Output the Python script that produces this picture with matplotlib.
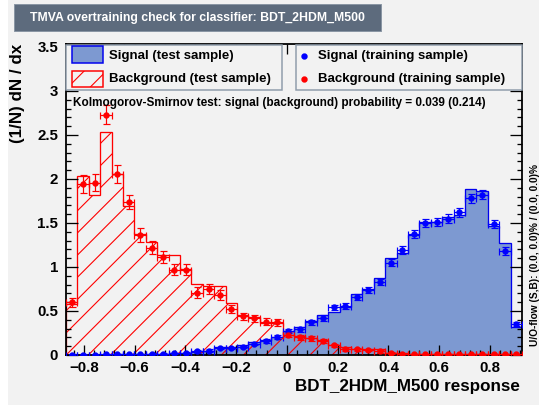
import matplotlib
matplotlib.use("Agg")
import matplotlib.pyplot as plt
from matplotlib.patches import Rectangle
from matplotlib.lines import Line2D
from matplotlib.ticker import MultipleLocator, FuncFormatter
import numpy as np

plt.rcParams['font.family'] = ['Liberation Sans', 'DejaVu Sans']
plt.rcParams['font.weight'] = 'bold'
plt.rcParams['hatch.linewidth'] = 0.6

DPI = 133
W, H = 539, 405


# pixel sizes -> points
def pt(px):
    return px * 72.0 / DPI


# ---------------- data ----------------
x_min, x_max = -0.870, 0.926
n_bins = 40

sig_test = [0.005, 0.005, 0.005, 0.005, 0.008, 0.01, 0.01, 0.012, 0.015, 0.02,
            0.025, 0.035, 0.04, 0.09, 0.09, 0.11, 0.15, 0.17, 0.21, 0.27,
            0.32, 0.39, 0.45, 0.49, 0.55, 0.69, 0.75, 0.87, 1.10, 1.16,
            1.36, 1.51, 1.51, 1.57, 1.59, 1.89, 1.86, 1.47, 1.27, 0.32]
sig_train = [0.005, 0.005, 0.005, 0.007, 0.008, 0.01, 0.01, 0.012, 0.012, 0.018,
             0.02, 0.04, 0.05, 0.08, 0.08, 0.09, 0.13, 0.16, 0.20, 0.27,
             0.29, 0.37, 0.42, 0.54, 0.56, 0.66, 0.74, 0.83, 1.05, 1.19,
             1.38, 1.50, 1.51, 1.55, 1.62, 1.78, 1.82, 1.49, 1.18, 0.35]
sig_err = [0.004, 0.004, 0.004, 0.005, 0.005, 0.006, 0.006, 0.006, 0.007, 0.008,
           0.009, 0.012, 0.013, 0.015, 0.015, 0.016, 0.018, 0.02, 0.022, 0.025,
           0.026, 0.028, 0.03, 0.032, 0.033, 0.035, 0.037, 0.039, 0.042, 0.044,
           0.046, 0.048, 0.048, 0.049, 0.05, 0.05, 0.05, 0.048, 0.045, 0.025]

bkg_test = [0.58, 2.03, 1.82, 2.53, 2.06, 1.69, 1.38, 1.28, 1.14, 1.14,
            0.98, 0.81, 0.78, 0.78, 0.59, 0.45, 0.43, 0.36, 0.36, 0.23,
            0.22, 0.19, 0.17, 0.11, 0.09, 0.065, 0.065, 0.065, 0.025, 0.02,
            0.012, 0.01, 0.01, 0.01, 0.01, 0.008, 0.008, 0.008, 0.008, 0.008]
bkg_train = [0.60, 1.94, 1.96, 2.73, 2.06, 1.74, 1.36, 1.22, 1.11, 0.97,
             0.97, 0.71, 0.75, 0.68, 0.52, 0.44, 0.42, 0.38, 0.37, 0.23,
             0.20, 0.19, 0.16, 0.11, 0.065, 0.065, 0.057, 0.04, 0.025, 0.015,
             0.01, 0.008, 0.008, 0.008, 0.008, 0.006, 0.006, 0.006, 0.006, 0.006]
bkg_err = [0.05, 0.1, 0.1, 0.11, 0.1, 0.08, 0.08, 0.07, 0.07, 0.065,
           0.065, 0.06, 0.06, 0.055, 0.045, 0.04, 0.04, 0.04, 0.04, 0.03,
           0.03, 0.03, 0.025, 0.02, 0.016, 0.016, 0.015, 0.012, 0.01, 0.008,
           0.006, 0.006, 0.006, 0.006, 0.006, 0.005, 0.005, 0.005, 0.005, 0.005]

title = "TMVA overtraining check for classifier: BDT_2HDM_M500"
ks_text = "Kolmogorov-Smirnov test: signal (background) probability = 0.039 (0.214)"
uo_text = "U/O-flow (S,B): (0.0, 0.0)% / (0.0, 0.0)%"

edges = np.linspace(x_min, x_max, n_bins + 1)
centers = 0.5 * (edges[:-1] + edges[1:])
half = 0.5 * (edges[1] - edges[0])

BG = '#f2f2f2'
SIG_FILL = '#7d99d1'

fig = plt.figure(figsize=(W / DPI, H / DPI), dpi=DPI, facecolor=BG)
ax = fig.add_axes([66 / W, (H - 355) / H, 456 / W, 311 / H])
ax.set_facecolor(BG)
ax.set_axisbelow(False)

# histograms
ax.stairs(sig_test, edges, fill=True, facecolor=SIG_FILL, edgecolor='none')
ax.stairs(sig_test, edges, color='#0000ee', lw=pt(1.3))
ax.stairs(bkg_test, edges, fill=True, facecolor='none', edgecolor='red',
          hatch='//', lw=0)
ax.stairs(bkg_test, edges, color='red', lw=pt(1.3))

# training points
ax.errorbar(centers, sig_train, xerr=half, yerr=sig_err, fmt='o', color='blue',
            ms=pt(4.5), elinewidth=pt(1.2), capsize=pt(3.5), capthick=pt(1.2), zorder=4)
ax.errorbar(centers, bkg_train, xerr=half, yerr=bkg_err, fmt='o', color='red',
            ms=pt(4.5), elinewidth=pt(1.2), capsize=pt(3.5), capthick=pt(1.2), zorder=4)

ax.set_xlim(x_min, x_max)
ax.set_ylim(0, 3.534)

ax.xaxis.set_major_locator(MultipleLocator(0.2))
ax.xaxis.set_minor_locator(MultipleLocator(0.04))
ax.yaxis.set_major_locator(MultipleLocator(0.5))
ax.yaxis.set_minor_locator(MultipleLocator(0.1))


def fmt(v, pos):
    v = round(v, 6)
    if v == 0:
        return "0"
    return ("%g" % v).replace("-", "\u2212")


ax.xaxis.set_major_formatter(FuncFormatter(fmt))
ax.yaxis.set_major_formatter(FuncFormatter(fmt))
ax.tick_params(which='both', direction='in', top=True, right=True, width=pt(1.3))
ax.tick_params(axis='x', which='major', length=pt(10), pad=pt(6), labelsize=pt(15))
ax.tick_params(axis='y', which='major', length=pt(12), pad=pt(8), labelsize=pt(15))
ax.tick_params(which='minor', length=pt(5))
for sp in ax.spines.values():
    sp.set_linewidth(pt(1.8))


def fx(x):
    return x / W


def fy(y):
    return 1 - y / H


# legend boxes
for x0, x1 in [(66, 282), (296, 522)]:
    ax.add_patch(Rectangle((fx(x0), fy(90)), (x1 - x0) / W, 45 / H, transform=fig.transFigure,
                           facecolor=BG, edgecolor='#8f9cab', lw=pt(1.5), clip_on=False, zorder=5))
ax.add_patch(Rectangle((fx(72), fy(63)), 31 / W, 17 / H, transform=fig.transFigure,
                       facecolor=SIG_FILL, edgecolor='#0000ee', lw=pt(1.5), clip_on=False, zorder=6))
ax.add_patch(Rectangle((fx(72), fy(87)), 31 / W, 16 / H, transform=fig.transFigure,
                       facecolor='none', edgecolor='red', hatch='//', lw=pt(1.5), clip_on=False, zorder=6))
fig.text(fx(109), fy(55.7), "Signal (test sample)", fontsize=pt(13.3), va='center', ha='left')
fig.text(fx(109), fy(79.3), "Background (test sample)", fontsize=pt(13.3), va='center', ha='left')
ax.add_line(Line2D([fx(304)], [fy(55.7)], marker='o', ms=pt(4.5), color='blue',
                   transform=fig.transFigure, clip_on=False, zorder=6))
ax.add_line(Line2D([fx(304)], [fy(79.3)], marker='o', ms=pt(4.5), color='red',
                   transform=fig.transFigure, clip_on=False, zorder=6))
fig.text(fx(318), fy(55.7), "Signal (training sample)", fontsize=pt(13.3), va='center', ha='left')
fig.text(fx(318), fy(79.3), "Background (training sample)", fontsize=pt(13.3), va='center', ha='left')

# texts
fig.text(fx(73), fy(103), ks_text, fontsize=pt(11.7), va='center', ha='left')
fig.text(fx(535.5), fy(346), uo_text, fontsize=pt(10.1), rotation=90, va='bottom', ha='center')
fig.text(fx(18), fy(44), "(1/N) dN / dx", fontsize=pt(17), rotation=90, va='top', ha='center')
fig.text(fx(520), fy(387), "BDT_2HDM_M500 response", fontsize=pt(17), va='center', ha='right')

# title box
fig.add_artist(Rectangle((fx(14), fy(31)), 367 / W, 27 / H, transform=fig.transFigure,
                         facecolor='#5d6b7d', edgecolor='#8a96a4', lw=pt(1)))
fig.text(fx(197.5), fy(17.5), title, fontsize=pt(12.3), color='white', va='center', ha='center')

# white strip on the left edge
fig.add_artist(Rectangle((0, 0), 8 / W, 1, transform=fig.transFigure,
                         facecolor='white', edgecolor='none'))

fig.savefig("out.png", dpi=DPI, facecolor=BG)
